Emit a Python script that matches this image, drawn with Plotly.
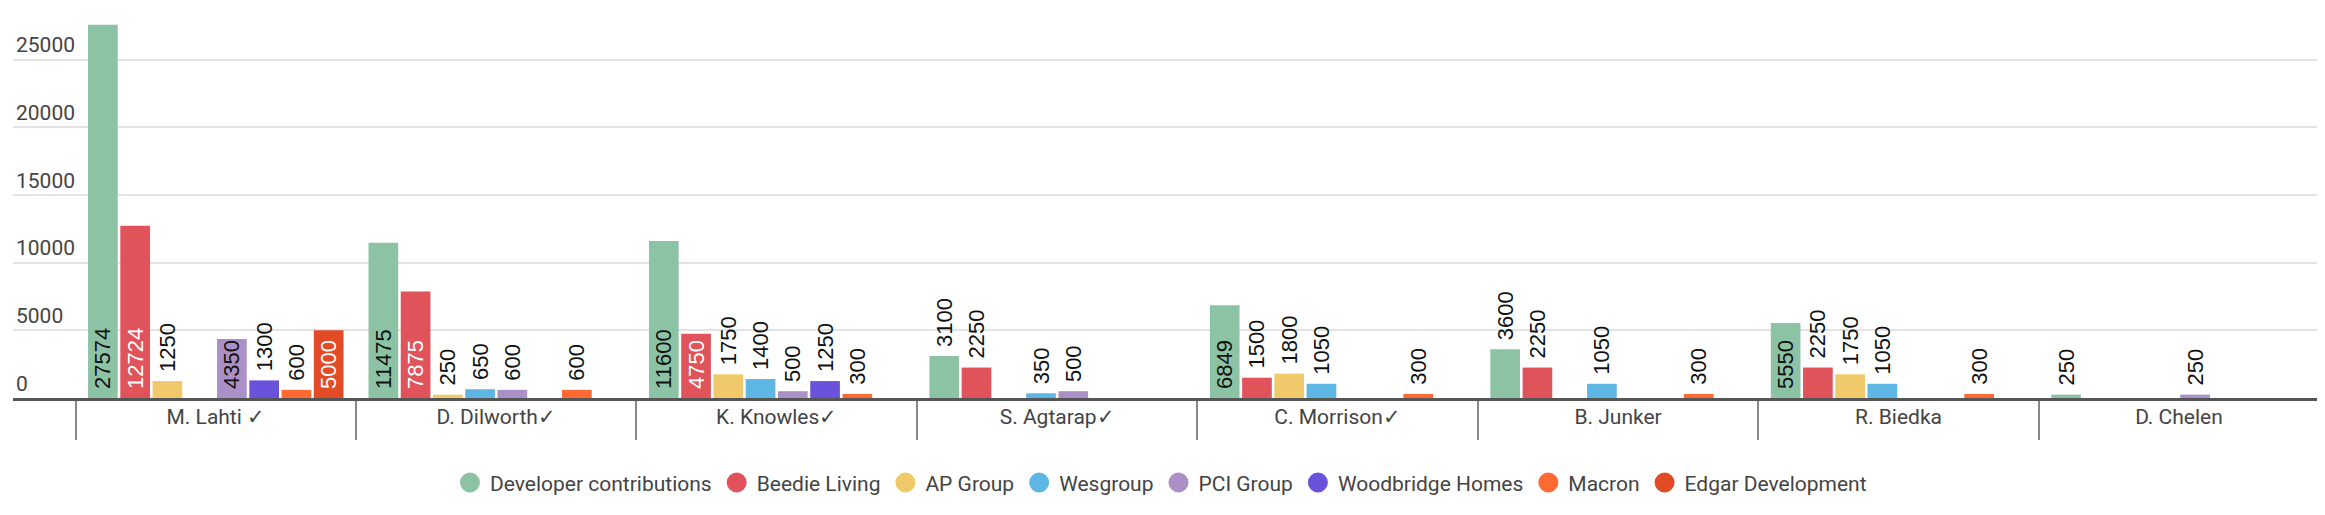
import plotly.graph_objects as go

categories = ["M. Lahti ✓", "D. Dilworth✓", "K. Knowles✓", "S. Agtarap✓",
              "C. Morrison✓", "B. Junker", "R. Biedka", "D. Chelen"]

dev_contrib = [27574, 11475, 11600, 3100, 6849, 3600, 5550, 250]
beedie      = [12724, 7875, 4750, 2250, 1500, 2250, 2250, None]
ap_group    = [1250, 250, 1750, None, 1800, None, 1750, None]
wesgroup    = [None, 650, 1400, 350, 1050, 1050, 1050, None]
pci_group   = [4350, 600, 500, 500, None, None, None, 250]
woodbridge  = [1300, None, 1250, None, None, None, None, None]
macron      = [600, 600, 300, None, 300, 300, 300, None]
edgar       = [5000, None, None, None, None, None, None, None]

y_ticks = [0, 5000, 10000, 15000, 20000, 25000]

series_names = ["Developer contributions", "Beedie Living", "AP Group", "Wesgroup",
                "PCI Group", "Woodbridge Homes", "Macron", "Edgar Development"]
series_values = [dev_contrib, beedie, ap_group, wesgroup, pci_group, woodbridge, macron, edgar]
colors = ["#8CC3A5", "#E0535B", "#F0C96A", "#5DB6E4", "#AB90C8", "#6B52DD", "#FF6A33", "#E24B26"]
inside_text_colors = ["#111111", "#FFFFFF", "#111111", "#111111", "#111111", "#FFFFFF", "#111111", "#FFFFFF"]

INSIDE_MIN = 4000
LABEL_FONT = "Liberation Sans, Arial"

fig = go.Figure()
for name, vals, col, itc in zip(series_names, series_values, colors, inside_text_colors):
    fig.add_trace(go.Bar(
        x=categories, y=vals, name=name,
        marker=dict(color=col, line=dict(width=0)),
        text=[("" if v is None else "\u00a0" + str(v)) for v in vals],
        textposition=[("inside" if (v is not None and v >= INSIDE_MIN) else "outside") for v in vals],
        insidetextanchor="start",
        textangle=-90,
        insidetextfont=dict(family=LABEL_FONT, size=22, color=itc),
        outsidetextfont=dict(family=LABEL_FONT, size=22, color="#111111"),
        constraintext="none",
        cliponaxis=False,
        showlegend=False,
        hoverinfo="skip",
    ))

for name, col in zip(series_names, colors):
    fig.add_trace(go.Scatter(
        x=[None], y=[None], mode="markers", name=name,
        marker=dict(symbol="circle", size=16, color=col, line=dict(color=col, width=4)),
        showlegend=True,
    ))

fig.update_layout(
    width=2325, height=515,
    margin=dict(l=5, r=11, t=11, b=125, autoexpand=False),
    paper_bgcolor="white", plot_bgcolor="white",
    barmode="group", bargap=0.08, bargroupgap=0.08,
    font=dict(family="Roboto", size=21, color="#444444"),
    xaxis=dict(
        type="category",
        range=[-0.723, 7.51],
        automargin=False,
        showline=True, linecolor="#555555", linewidth=3,
        ticks="outside", tickson="boundaries", ticklen=39, tickwidth=1.5, tickcolor="#888888",
        ticklabelstandoff=-2,
        tickfont=dict(family="Roboto", size=21, color="#444444"),
        showgrid=False, zeroline=False,
    ),
    yaxis=dict(
        range=[0, 28000],
        automargin=False,
        tickvals=y_ticks,
        tickformat="d",
        ticklabelposition="inside top",
        tickfont=dict(family="Roboto", size=21, color="#444444"),
        showgrid=True, gridcolor="#E3E3E3", gridwidth=2,
        zeroline=False, showline=False, ticks="",
    ),
    legend=dict(
        orientation="h", xref="container", yref="container",
        x=0.4959, xanchor="center", y=0.078, yanchor="middle",
        font=dict(family="Roboto", size=21, color="#444444"),
        itemsizing="trace",
    ),
)

fig.write_html("out.html")
